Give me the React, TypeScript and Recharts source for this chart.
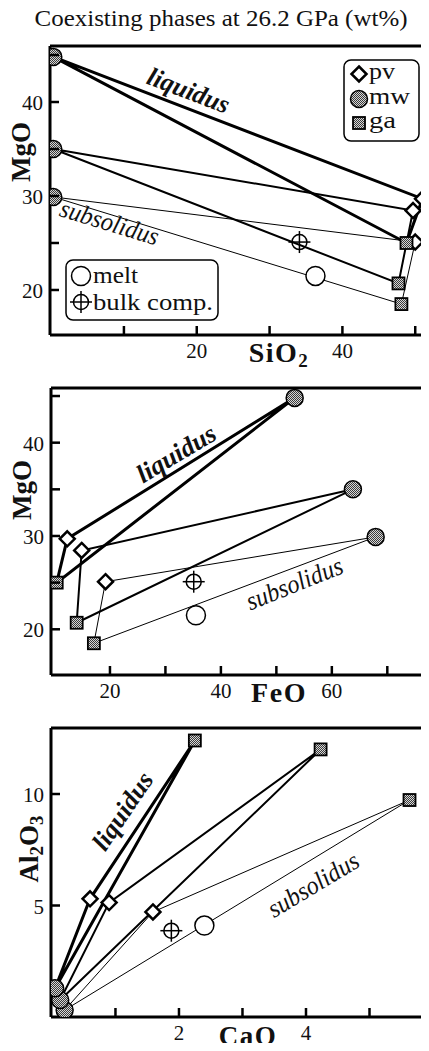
import React from "react";
import { ScatterChart, Scatter, XAxis, YAxis, ReferenceLine } from "recharts";

/* ── Phase compositions (wt%) — index 0 = liquidus run, 1 = middle run, 2 = subsolidus run ── */
const mwSiO2 = [0.3, 0.3, 0.3];
const mwMgO = [44.8, 35.0, 29.9];
const mwFeO = [53.3, 63.8, 67.9];
const mwCaO = [0.05, 0.13, 0.2];
const mwAl2O3 = [1.29, 0.76, 0.31];

const pvSiO2 = [51.0, 49.7, 50.0];
const pvMgO = [29.7, 28.45, 25.1];
const pvFeO = [12.3, 14.9, 19.2];
const pvCaO = [0.6, 0.9, 1.59];
const pvAl2O3 = [5.3, 5.13, 4.71];

const gaSiO2 = [48.8, 47.7, 48.1];
const gaMgO = [25.0, 20.7, 18.5];
const gaFeO = [10.4, 14.0, 17.1];
const gaCaO = [2.25, 4.23, 5.63];
const gaAl2O3 = [12.4, 12.0, 9.73];

const meltComp = { SiO2: 36.3, MgO: 21.5, FeO: 35.5, CaO: 2.4, Al2O3: 4.1 };
const bulkComp = { SiO2: 34.1, MgO: 25.1, FeO: 35.1, CaO: 1.88, Al2O3: 3.87 };

const tieWidths = [3, 2, 1];

const serif = "'Liberation Serif', 'Times New Roman', serif";

type Pt = { x: number; y: number };
const pts = (xs: number[], ys: number[]): Pt[] => xs.map((v, i) => ({ x: v, y: ys[i] }));

const panels = [
  {
    top: 0, mTop: 46, xH: 35, h: 370, yW: 50,
    xDomain: [-0.15, 53.4], yDomain: [15.21, 45.96],
    xTicks: [10, 20, 30, 40, 50], xLabels: [20, 40],
    yTicks: [20, 25, 30, 35, 40, 45], yLabels: [20, 30, 40],
    mw: pts(mwSiO2, mwMgO), pv: pts(pvSiO2, pvMgO), ga: pts(gaSiO2, gaMgO),
    melt: [{ x: meltComp.SiO2, y: meltComp.MgO }],
    bulk: [{ x: bulkComp.SiO2, y: bulkComp.MgO }],
  },
  {
    top: 370, mTop: 18, xH: 30, h: 335, yW: 51,
    xDomain: [9.37, 79.5], yDomain: [15.1, 45.86],
    xTicks: [20, 30, 40, 50, 60, 70], xLabels: [20, 40, 60],
    yTicks: [20, 25, 30, 35, 40, 45], yLabels: [20, 30, 40],
    mw: pts(mwFeO, mwMgO), pv: pts(pvFeO, pvMgO), ga: pts(gaFeO, gaMgO),
    melt: [{ x: meltComp.FeO, y: meltComp.MgO }],
    bulk: [{ x: bulkComp.FeO, y: bulkComp.MgO }],
  },
  {
    top: 705, mTop: 23, xH: 34, h: 346, yW: 51,
    xDomain: [-0.015, 6.11], yDomain: [0, 12.96],
    xTicks: [1, 2, 3, 4, 5], xLabels: [2, 4],
    yTicks: [5, 10], yLabels: [5, 10],
    mw: pts(mwCaO, mwAl2O3), pv: pts(pvCaO, pvAl2O3), ga: pts(gaCaO, gaAl2O3),
    melt: [{ x: meltComp.CaO, y: meltComp.Al2O3 }],
    bulk: [{ x: bulkComp.CaO, y: bulkComp.Al2O3 }],
  },
];

/* ── Marker shapes ─────────────────────────────────────────────────────── */
const MwDot = ({ cx, cy }: any) => (
  <circle cx={cx} cy={cy} r={8.5} fill="url(#stip)" stroke="#000" strokeWidth={1.5} />
);
const PvDot = ({ cx, cy }: any) => (
  <path d={`M${cx},${cy - 7.5}L${cx + 7.5},${cy}L${cx},${cy + 7.5}L${cx - 7.5},${cy}Z`} fill="#fff" stroke="#000" strokeWidth={2.5} strokeLinejoin="miter" />
);
const GaDot = ({ cx, cy }: any) => (
  <rect x={cx - 6} y={cy - 6} width={12} height={12} fill="url(#stip)" stroke="#000" strokeWidth={1.8} />
);
const MeltDot = ({ cx, cy }: any) => (
  <circle cx={cx} cy={cy} r={9.5} fill="#fff" stroke="#000" strokeWidth={1.5} />
);
const BulkDot = ({ cx, cy }: any) => (
  <g stroke="#000" strokeWidth={1.5} fill="none">
    <circle cx={cx} cy={cy} r={7.5} />
    <line x1={cx - 11} y1={cy} x2={cx + 11} y2={cy} />
    <line x1={cx} y1={cy - 11} x2={cx} y2={cy + 11} />
  </g>
);
const NoDot = () => <g />;

/* ── Inward ticks ─────────────────────────────────────────────────────── */
function XTick({ x, y, payload, labels }: any) {
  return (
    <g>
      <line x1={x} y1={y} x2={x} y2={y - 9} stroke="#000" strokeWidth={2.5} />
      {labels.includes(payload.value) && (
        <text x={x} y={y + 23} textAnchor="middle" fontSize={21} fontFamily={serif} fill="#111">
          {payload.value}
        </text>
      )}
    </g>
  );
}
function YTick({ x, y, payload, labels }: any) {
  return (
    <g>
      <line x1={x} y1={y} x2={x + 9} y2={y} stroke="#000" strokeWidth={2.5} />
      {labels.includes(payload.value) && (
        <text x={x - 7} y={y + 8} textAnchor="end" fontSize={21} fontFamily={serif} fill="#111">
          {payload.value}
        </text>
      )}
    </g>
  );
}

function Panel({ p }: { p: (typeof panels)[number] }) {
  const tris = [0, 1, 2].map((i) => [p.mw[i], p.pv[i], p.ga[i], p.mw[i]]);
  return (
    <div style={{ position: "absolute", left: 0, top: p.top }}>
      <ScatterChart width={440} height={p.h} margin={{ top: p.mTop, right: 0, left: 0, bottom: 0 }}>
        <XAxis
          type="number" dataKey="x" domain={p.xDomain} ticks={p.xTicks} interval={0}
          height={p.xH} tickSize={0} tickMargin={0} tickLine={false}
          axisLine={{ stroke: "#000", strokeWidth: 3 }}
          tick={<XTick labels={p.xLabels} />}
          allowDataOverflow
        />
        <YAxis
          type="number" dataKey="y" domain={p.yDomain} ticks={p.yTicks} interval={0}
          width={p.yW} tickSize={0} tickMargin={0} tickLine={false}
          axisLine={{ stroke: "#000", strokeWidth: 3 }}
          tick={<YTick labels={p.yLabels} />}
          allowDataOverflow
        />
        <ReferenceLine y={p.yDomain[1]} stroke="#000" strokeWidth={3} ifOverflow="visible" />
        {tris.map((t, i) => (
          <Scatter key={"tie" + i} data={t} line={{ stroke: "#000", strokeWidth: tieWidths[i] }} shape={NoDot} isAnimationActive={false} />
        ))}
        <Scatter data={[...p.mw].reverse()} shape={MwDot} isAnimationActive={false} />
        <Scatter data={p.pv} shape={PvDot} isAnimationActive={false} />
        <Scatter data={p.ga} shape={GaDot} isAnimationActive={false} />
        <Scatter data={p.melt} shape={MeltDot} isAnimationActive={false} />
        <Scatter data={p.bulk} shape={BulkDot} isAnimationActive={false} />
      </ScatterChart>
    </div>
  );
}

const Lbl = ({ x, y, a, len, bold, children }: any) => (
  <text
    x={x} y={y} dy={7} transform={`rotate(${a} ${x} ${y})`} textAnchor="middle"
    fontSize={26} fontStyle="italic" fontWeight={bold ? 700 : 400} fontFamily={serif}
    textLength={len} lengthAdjust="spacingAndGlyphs" fill="#111"
  >
    {children}
  </text>
);

export default function App() {
  return (
    <div style={{ position: "relative", margin: -8, width: 429, height: 1051, overflow: "hidden", background: "#fff" }}>
      <svg width={0} height={0} style={{ position: "absolute" }}>
        <defs>
          <pattern id="stip" patternUnits="userSpaceOnUse" width={2} height={2}>
            <rect width={2} height={2} fill="#d6d6d6" />
            <rect width={1} height={1} fill="#3a3a3a" />
            <rect x={1} y={1} width={1} height={1} fill="#3a3a3a" />
          </pattern>
        </defs>
      </svg>
      {panels.map((p, i) => (
        <Panel key={i} p={p} />
      ))}
      <svg width={429} height={1051} style={{ position: "absolute", left: 0, top: 0, pointerEvents: "none" }}>
        <text x={221} y={26} textAnchor="middle" fontSize={24} fontFamily={serif} textLength={373} lengthAdjust="spacingAndGlyphs" fill="#111">
          Coexisting phases at 26.2 GPa (wt%)
        </text>

        {/* axis titles */}
        <text x={30} y={152} transform="rotate(-90 30 152)" textAnchor="middle" fontSize={27} fontWeight={700} fontFamily={serif} fill="#111">MgO</text>
        <text x={279} y={362} textAnchor="middle" fontSize={28} fontWeight={700} fontFamily={serif} letterSpacing={1.5} fill="#111">
          SiO<tspan fontSize={19} dy={5}>2</tspan>
        </text>
        <text x={31} y={490} transform="rotate(-90 31 490)" textAnchor="middle" fontSize={27} fontWeight={700} fontFamily={serif} fill="#111">MgO</text>
        <text x={279} y={702} textAnchor="middle" fontSize={28} fontWeight={700} fontFamily={serif} letterSpacing={1.5} fill="#111">FeO</text>
        <text x={38} y={849} transform="rotate(-90 38 849)" textAnchor="middle" fontSize={27} fontWeight={700} fontFamily={serif} fill="#111">
          Al<tspan fontSize={19} dy={5}>2</tspan><tspan dy={-5}>O</tspan><tspan fontSize={19} dy={5}>3</tspan>
        </text>
        <text x={248} y={1045} textAnchor="middle" fontSize={27} fontWeight={700} fontFamily={serif} letterSpacing={1.5} fill="#111">CaO</text>

        {/* field labels */}
        <Lbl x={188} y={92} a={21} len={86} bold>liquidus</Lbl>
        <Lbl x={109} y={224} a={17} len={102}>subsolidus</Lbl>
        <Lbl x={177} y={455} a={-31} len={88} bold>liquidus</Lbl>
        <Lbl x={295} y={585} a={-22} len={102}>subsolidus</Lbl>
        <Lbl x={124} y={812} a={-56} len={88} bold>liquidus</Lbl>
        <Lbl x={314} y={886} a={-31} len={102}>subsolidus</Lbl>

        {/* legend: pv / mw / ga */}
        <rect x={344} y={60} width={75} height={81} rx={7} fill="#fff" stroke="#000" strokeWidth={1.5} />
        <PvDot cx={359} cy={74} />
        <MwDot cx={359} cy={99} />
        <GaDot cx={359} cy={123} />
        <g fontSize={24} fontFamily={serif} fill="#111">
          <text x={369} y={79} textLength={26} lengthAdjust="spacingAndGlyphs">pv</text>
          <text x={369} y={104} textLength={41} lengthAdjust="spacingAndGlyphs">mw</text>
          <text x={369} y={128} textLength={27} lengthAdjust="spacingAndGlyphs">ga</text>
        </g>

        {/* legend: melt / bulk comp. */}
        <rect x={66} y={260} width={152} height={60} rx={7} fill="#fff" stroke="#000" strokeWidth={1.5} />
        <MeltDot cx={81} cy={276} />
        <BulkDot cx={81} cy={302} />
        <g fontSize={24} fontFamily={serif} fill="#111">
          <text x={93} y={283} textLength={45} lengthAdjust="spacingAndGlyphs">melt</text>
          <text x={93} y={310} textLength={120} lengthAdjust="spacingAndGlyphs">bulk comp.</text>
        </g>
      </svg>
    </div>
  );
}
